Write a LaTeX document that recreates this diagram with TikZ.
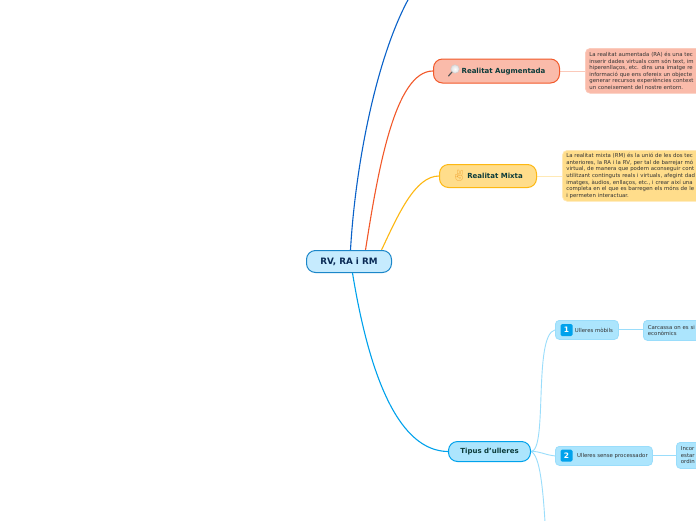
\documentclass[tikz,border=0pt]{standalone}
\usepackage{fontspec}
\setmainfont{DejaVu Sans}
\newfontfamily\emojifont{Noto Emoji}
\usetikzlibrary{backgrounds,shadings}
\definecolor{rootfill}{HTML}{C6EBFE}
\definecolor{rootline}{HTML}{1B87C9}
\definecolor{rootink}{HTML}{0A2A55}
\definecolor{blueline}{HTML}{0A62C9}
\definecolor{redfill}{HTML}{FABBAA}
\definecolor{redline}{HTML}{F2592A}
\definecolor{redlink}{HTML}{FBC9BA}
\definecolor{yelfill}{HTML}{FFDD8B}
\definecolor{yelline}{HTML}{FDB813}
\definecolor{yellink}{HTML}{FFE9B5}
\definecolor{handcol}{HTML}{F2A93B}
\definecolor{cyanfill}{HTML}{ACE5FD}
\definecolor{cyanline}{HTML}{00A2EC}
\definecolor{skyline}{HTML}{9ADDFB}
\definecolor{ink}{HTML}{0B3B3A}
\definecolor{bodyink}{HTML}{333333}
\tikzset{
  x=1pt,y=-1pt,
  pill/.style={rounded corners=9pt,line width=1pt,inner sep=0pt,anchor=north west,font=\fontsize{7}{8}\selectfont\bfseries},
  note/.style={rounded corners=5pt,inner sep=0pt,anchor=north west,align=left,font=\fontsize{5.4}{6.55}\selectfont,text=bodyink},
  sub/.style={rounded corners=4pt,line width=.8pt,draw=skyline,fill=cyanfill,inner sep=0pt,anchor=north west,font=\fontsize{5.4}{6.5}\selectfont,text=bodyink},
  curve/.style={line width=1.1pt},
  twig/.style={line width=.9pt,draw=skyline},
  numbox/.style={rounded corners=1.5pt,fill=cyanline,text=white,inner sep=0pt,minimum width=12pt,minimum height=12pt,font=\fontsize{7.5}{8}\selectfont\bfseries}
}
\begin{document}
\begin{tikzpicture}
\useasboundingbox (0,0) rectangle (696,520);
\clip (0,0) rectangle (696,520);
% main nodes
\node[pill,draw=rootline,fill=rootfill,text=rootink,minimum width=85pt,minimum height=22pt,font=\fontsize{8.8}{10}\selectfont\bfseries] (root) at (306,250) {RV, RA i RM};
\node[pill,draw=redline,fill=redfill,text=ink,minimum width=126pt,minimum height=24pt,text depth=0pt] (aug) at (433,58.5) {\hspace{14pt}Realitat Augmentada};
\node[pill,draw=yelline,fill=yelfill,text=ink,minimum width=97pt,minimum height=23pt] (mix) at (439,164) {\hspace{14pt}Realitat Mixta};
\node[pill,draw=cyanline,fill=cyanfill,text=ink,minimum width=82pt,minimum height=20pt] (tipus) at (448,441) {Tipus d'ulleres};
% notes
\node[note,fill=redfill,draw=redlink,line width=.7pt,text width=140pt,minimum height=45pt,inner xsep=4pt] (augnote) at (585,48) {La realitat aumentada (RA) és una tec\\inserir dades virtuals com són text, im\\hiperenllaços, etc. dins una imatge re\\informació que ens ofereix un objecte\\generar recursos experiències context\\un coneixement del nostre entorn.};
\node[note,fill=yelfill,draw=yellink,line width=.7pt,text width=170pt,minimum height=51pt,inner xsep=4pt] (mixnote) at (562,150) {La realitat mixta (RM) és la unió de les dos tec\\anteriores, la RA i la RV, per tal de barrejar mó\\virtual, de manera que podem aconseguir cont\\utilitzant continguts reals i virtuals, afegint dad\\imatges, àudios, enllaços, etc., i crear així una\\completa en el que es barregen els móns de le\\i permeten interactuar.};
% sub nodes
\node[sub,minimum width=63pt,minimum height=19pt,align=left] (mob) at (555,320) {\hspace{17pt}Ulleres mòbils\hspace{3pt}};
\node[numbox] (n1) at (566.5,330) {1};
\node[sub,minimum width=97pt,minimum height=19pt] (sens) at (555,446) {\hspace{17pt}Ulleres sense processador\hspace{3pt}};
\node[numbox] (n2) at (566.5,455.5) {2};
\node[sub,minimum width=90pt,minimum height=20pt,align=left,inner xsep=4.5pt,text width=90pt] (mobnote) at (643,320) {Carcassa on es si\\econòmics};
\node[sub,minimum width=60pt,minimum height=26pt,align=left,inner xsep=4.5pt,text width=60pt] (sensnote) at (676,442) {Incor\\estar\\ordin};
% icons
\node[circle,minimum size=8.5pt,inner sep=0pt,draw=gray!40,line width=.4pt,shade,inner color=white,outer color=gray!25] (lens) at (455,69) {};
\coordinate (handle) at (448.5,76);
\draw[gray!70!black,line width=1.2pt,line cap=round] (lens.south west) -- (handle);
\node[inner sep=0pt,text=handcol,font=\emojifont\fontsize{11}{11}\selectfont] (hand) at (459,175.5) {✌};
% free ends
\coordinate (topend) at (409,-2);
\coordinate (botend) at (545,522);
\begin{scope}[on background layer]
\fill[white] (0,0) rectangle (696,520);
\draw[curve,blueline] ([xshift=1.5pt]root.north) .. controls (355,170) and (375,60) .. (topend);
\draw[curve,redline] ([xshift=16.5pt]root.north) .. controls (378,170) and (395,71) .. (aug.west);
\draw[curve,yelline] ([xshift=32.5pt]root.north) .. controls (398,215) and (415,176) .. (mix.west);
\draw[curve,cyanline] ([xshift=3.5pt]root.south) .. controls (370,380) and (400,451) .. (tipus.west);
\draw[twig] (tipus.east) .. controls (548,451) and (533,335) .. (mob.west);
\draw[twig] (tipus.east) .. controls (540,451) and (545,455) .. (sens.west);
\draw[twig] (tipus.east) .. controls (540,455) and (543,490) .. (botend);
\draw[line width=1pt,redlink] (aug.east) -- (aug.east -| augnote.west);
\draw[line width=1pt,yellink] (mix.east) -- (mix.east -| mixnote.west);
\draw[twig] (mob.east) -- (mob.east -| mobnote.west);
\draw[twig] (sens.east) -- (sens.east -| sensnote.west);
\end{scope}
\end{tikzpicture}
\end{document}
